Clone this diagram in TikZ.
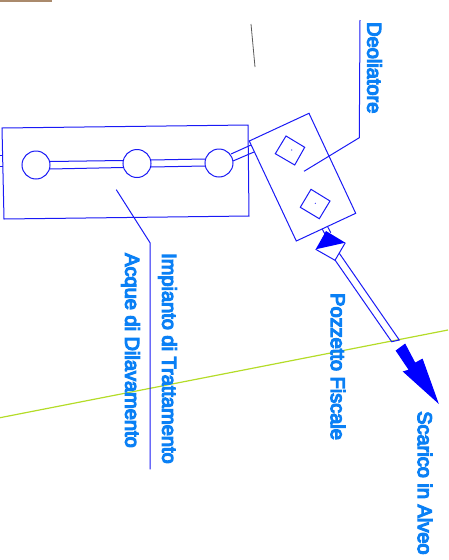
\documentclass[tikz,border=0pt]{standalone}
\usepackage{fontspec}
\setmainfont{Liberation Sans}[FakeBold=6]
\usepackage{tikz}
\definecolor{PlanBlue}{HTML}{1A1AF5}
\definecolor{LabelBlue}{HTML}{0A80F5}
\definecolor{FieldGreen}{HTML}{B4DC28}
\tikzset{
    planline/.style={draw=PlanBlue, line width=1pt, line join=miter},
    tank/.style={circle, draw=PlanBlue, line width=1pt, minimum size=28pt, inner sep=0pt},
    planlabel/.style={text=LabelBlue, rotate=-90, anchor=west, inner sep=0pt, font=\fontsize{20}{20}\selectfont}
}

\begin{document}
\begin{tikzpicture}[x=1pt, y=-1pt]
        \useasboundingbox (0,0) rectangle (448,560);

        \fill[brown!70!black, opacity=0.7] (0,0) rectangle (52,2);
        \draw[gray!70!black, line width=0.8pt] (251,24)--(255,67);
        \draw[FieldGreen, line width=1.2pt] (0,417.7)--(448,330);

        % impianto
        \draw[planline] (2,128)--(248,125)--(249,216)--(4,219)--cycle;
        \node[tank] (tankA) at (36,165) {};
        \node[tank] (tankB) at (137,163.5) {};
        \node[tank] (tankC) at (219,163) {};
        \draw[planline] (0,155)--(3,155) (0,166)--(3,166);
        \draw[planline] (50,161.5)--(123,160.5) (50,169)--(123,167.5);
        \draw[planline] (151,160)--(205,159) (151,167)--(205,166);
        \draw[planline] (231,154)--(251,145) (233,161)--(254,152);

        % deoliatore
        \draw[planline] (309,113.3)--(249.3,141)--(296.3,241)--(355.7,213.3)--cycle;
        \draw[planline] (286,136)--(304.7,147.3)--(294.7,165)--(275.3,153.7)--cycle;
        \draw[planline] (311,189.3)--(330,201)--(319.3,218.7)--(300.3,207.3)--cycle;
        \fill[PlanBlue] (291.7,150) circle (0.6);
        \fill[PlanBlue] (315.3,203.3) circle (0.6);

        % pozzetto e scarico
        \draw[planline] (322.3,229.3)--(326,236) (327.3,226)--(330.7,232.7);
        \draw[planline] (315.7,249.3)--(335,260.3)--(345.3,242.7);
        \fill[blue] (315.7,249.3)--(345.3,242.7)--(326,231)--cycle;
        \draw[planline] (335,260)--(391.7,341.7)--(399.3,340)--(339.3,253.3);
        \filldraw[blue, line width=1pt] (405,344.3)--(396.3,350.7)--(409.3,370)--(403.7,371.7)--(437.7,402.3)--(422.3,359.3)--(415,363.3)--cycle;

        % richiami
        \draw[planline] (360,20)--(359.3,137.7)--(304,171.3);
        \draw[planline] (116.3,189.7)--(150,242.7)--(150,469.3);

        \node[planlabel] (deoliatore) at (374.5,22) {Deoliatore};
        \node[planlabel] (impianto) at (167.5,253) {Impianto di Trattamento};
        \node[planlabel] (acque) at (130.5,253) {Acque di Dilavamento};
        \node[planlabel] (pozzetto) at (338,293) {Pozzetto Fiscale};
        \node[planlabel] (scarico) at (425,411) {Scarico in Alveo};
    \end{tikzpicture}
\end{document}
